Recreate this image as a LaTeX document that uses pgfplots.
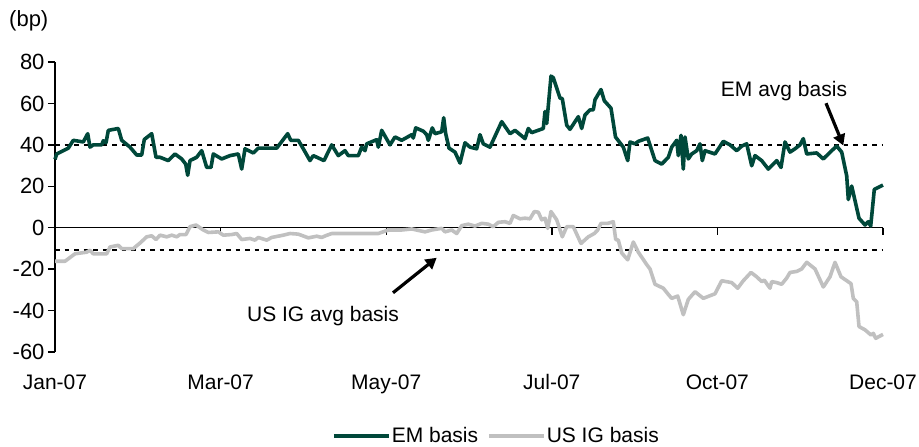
\documentclass[border=0pt]{standalone}
\usepackage{fontspec}
\setmainfont{Liberation Sans}
\usepackage{pgfplots}
\pgfplotsset{compat=1.18}
\usetikzlibrary{arrows.meta}
\definecolor{emgreen}{RGB}{0,72,58}
\definecolor{iggrey}{RGB}{192,192,192}
\newcommand{\fs}{\fontsize{21bp}{25bp}\selectfont}
\newcommand{\fy}{\fontsize{22bp}{26bp}\selectfont}

\begin{document}
\begin{tikzpicture}[font=\fs]
\useasboundingbox (0,0) rectangle (919bp,447bp);
\begin{axis}[
  at={(55bp,95bp)}, anchor=south west,
  width=828bp, height=290bp, scale only axis,
  xmin=55, xmax=883, ymin=-60, ymax=80,
  clip=false,
  axis x line*=bottom, axis y line*=left,
  x axis line style={draw=none},
  y axis line style={line width=1.4bp, black},
  xtick={55,220.6,386.2,551.8,717.4,883},
  xticklabels={Jan-07,Mar-07,May-07,Jul-07,Oct-07,Dec-07},
  xtick style={draw=none},
  ytick={-60,-40,...,80},
  ytick style={line width=1.4bp, black},
  tick align=outside, major tick length=7bp,
  /pgf/number format/assume math mode=true,
  xticklabel style={font=\fs, yshift=-12bp},
  yticklabel style={font=\fy},
  legend style={draw=none, fill=none, at={(0.5326,-0.2897)}, anchor=center,
    font=\fs, nodes={inner sep=1bp},
    /tikz/every even column/.append style={column sep=8bp}},
  legend columns=2,
  legend image code/.code={\draw[#1] (0bp,0bp) -- (55bp,0bp);},
]
% zero line with ticks
\draw[black, line width=1.4bp] (axis cs:55,0) -- (axis cs:883,0);
\draw[black, line width=1.4bp] (axis cs:220.6,0) -- ++(0bp,-7bp);
\draw[black, line width=1.4bp] (axis cs:386.2,0) -- ++(0bp,-7bp);
\draw[black, line width=1.4bp] (axis cs:551.8,0) -- ++(0bp,-7bp);
\draw[black, line width=1.4bp] (axis cs:717.4,0) -- ++(0bp,-7bp);
\draw[black, line width=1.4bp] (axis cs:883,0) -- ++(0bp,-7bp);
% average lines
\draw[black, line width=2bp, dash pattern=on 4.5bp off 5bp] (axis cs:55,39.7) -- (axis cs:883,39.7);
\draw[black, line width=2bp, dash pattern=on 4.5bp off 5bp] (axis cs:55,-10.6) -- (axis cs:883,-10.6);

\addplot[emgreen, line width=3.6bp, line join=round] coordinates {
(55,33) (56.7,35.6) (68.3,38.4) (73.3,42.2) (83.3,41.4) (87.7,45.4) (90,38.9) (93.3,40)
(101.7,40) (103.3,42) (106,41) (108.3,47) (118.3,47.9) (121.7,42.2) (130,38.9) (136.7,35.1)
(141.7,35.1) (144.3,42.6) (151.7,45.4) (156,34) (160,34) (168.3,32.4) (175,35.6) (181.7,33.2)
(185.7,30.7) (187.7,25.3) (190,32.4) (196.7,34) (201.7,37.2) (206.7,29.1) (211,29.1) (213.3,35.6)
(221.7,33.2) (230,34.8) (238.3,35.6) (241.7,28.3) (245,38.1) (253.3,36.1) (258.3,38.4) (276.7,38.4)
(287.7,45.4) (290.7,42.2) (298.3,42.2) (303.3,38.1) (310,32.4) (313.3,34.8) (324,32.4) (331.7,40)
(338.3,34.8) (345,37.2) (348.3,34.8) (358.3,34.8) (361.7,38.9) (365,37.2) (366.7,40.5) (376.7,42.5)
(378.3,38.9) (381.7,47) (390,40) (395,43.8) (401.7,42.2) (411.7,44.9) (413.3,43.3) (415.7,48.2)
(423.3,46.6) (426.7,44.9) (428.3,42.2) (432.3,48.2) (435,45.4) (441.7,46.3) (443.7,53.1) (445.7,45.4)
(449,38.4) (455,36.5) (460,31.2) (465,41) (470,38.9) (476.7,38.1) (480,44.9) (483.3,40.5)
(490,38.9) (501.7,51.2) (510,45.4) (515,47) (525,43) (528.3,47.9) (531.7,45.9) (543.3,47.9)
(545,56.1) (546.7,50.3) (551,73.2) (553.3,72.4) (560,62.6) (562.3,62.3) (566.7,49.5) (570,47.5)
(578.3,53.6) (581.7,47.9) (585,54.4) (590,56.9) (593.3,56.9) (595,61.8) (601,66.7) (604.3,61.3)
(611,57.7) (615.5,43.8) (623.3,38.9) (627.7,32.4) (630,41.4) (635,40.5) (638.3,41.7) (647.7,43.3)
(655,32.4) (661.7,30.7) (668.3,34) (671.7,38.9) (676.7,42.2) (678.3,34.8) (681,44.6) (683.3,28.3)
(685,43.8) (688.3,33.2) (691.7,35.6) (696.7,37.2) (700,40.5) (702.3,32.4) (705,37.2) (715,35.6)
(723.3,41.7) (730,40) (736.7,37.2) (741.7,39.4) (746.7,40.5) (751.7,29.9) (755,34.8) (761.7,32.4)
(768.3,28.3) (773.3,30.7) (776.7,32.4) (781,29.1) (785,41.4) (790,36.5) (795,38.1) (800,40)
(803.3,43) (806.7,35.6) (816.7,36.1) (823.3,33.2) (831.7,37.2) (836.7,39.4) (841.7,36.5) (846.7,25)
(848.3,13.6) (851.7,20.1) (859,4.6) (865,1.3) (868.3,2.9) (870.7,0.8) (874.3,18.5) (883,20.6)
};
\addlegendentry{EM basis}

\addplot[iggrey, line width=3.6bp, line join=round] coordinates {
(55,-16.2) (65,-16.2) (75,-12.6) (86.7,-11.8) (90,-10.9) (93.3,-12.6) (106.7,-12.6) (110,-9.3)
(118.3,-8.5) (121.7,-10.1) (133.3,-10.1) (140,-7.4) (146.7,-4.4) (151.7,-3.9) (156,-5.7) (160,-3.6)
(166.7,-4.4) (171.7,-3.6) (176.7,-4.4) (180,-3.3) (186,-3.3) (190,0.5) (196,1.3) (203.3,-1.1)
(208.3,-2.3) (218.3,-2) (223.3,-3.6) (231.7,-3.3) (236.7,-2.8) (241.7,-5.7) (250,-5.2) (255,-6)
(258.3,-4.7) (266.7,-6) (271.7,-4.7) (283.3,-3.6) (290,-2.8) (298.3,-3.1) (308.3,-4.9) (316.7,-4.1)
(321.7,-4.7) (326,-3.8) (331.7,-2.8) (378.3,-2.8) (388.3,-1.1) (401.7,-1.1) (411.7,-0.6) (425,-2)
(431.7,-1.1) (441.7,-0.3) (445,-2) (451.7,-1.1) (456.7,-2.8) (461.7,1) (468.3,1.7) (475,0.8)
(481.7,2.1) (488.3,1.7) (493.3,0.5) (498.3,2.6) (505,2.9) (510,2.1) (513.3,5.9) (520,4.3)
(525,4.6) (530,4.3) (534.3,7.8) (538.3,7.5) (541.7,3.8) (545,4.6) (547.7,-0.3) (551,7.8)
(556.7,3.8) (562.3,-4.4) (566.7,0.5) (573.3,0.5) (581,-7.6) (588.3,-4.4) (594.3,-2.8) (597.7,-1.1)
(601,2.1) (607.7,2.1) (613.3,2.9) (615.7,-5.7) (618.3,-6) (621.7,-12.2) (627.7,-15.5) (633.3,-6.9)
(638.3,-11.8) (646.7,-17.8) (650,-19.9) (655,-27.3) (663.3,-29.2) (668.3,-32.2) (671.7,-34.1) (677.7,-33)
(683.3,-42) (688.3,-34.6) (695,-30.9) (703.3,-34.1) (711.7,-32.5) (715,-31.9) (721.7,-25.6) (731.7,-26.5)
(737.7,-29.2) (743.3,-25.6) (751,-21.6) (756.7,-23.7) (761.7,-26) (764.3,-25.3) (766.7,-27) (770,-29.2)
(771.7,-26) (776.7,-26.5) (781.7,-27.3) (786.7,-24.3) (790,-21.6) (796.7,-21.1) (801.7,-19.9) (806.7,-16.7)
(815,-19.9) (823.3,-28.6) (830,-23.7) (835,-16.7) (841,-23.7) (851,-27) (853.3,-34.1) (856.7,-35.8)
(859,-47.7) (865,-49.3) (871,-51.8) (873.3,-51) (875.7,-53.4) (883,-51.5)
};
\addlegendentry{US IG basis}

% annotations
\node[anchor=base west, inner sep=0pt, font=\fy] at (axis cs:9,96.9) {(bp)};
\node[anchor=base, inner sep=0pt] at (axis cs:784,63.4) {EM avg basis};
\draw[black, line width=3.2bp, -{Triangle[length=11bp,width=12bp]}] (axis cs:826,60.1) -- (axis cs:843.3,39.7);
\node[anchor=base, inner sep=0pt] at (axis cs:323,-45.2) {US IG avg basis};
\draw[black, line width=3.2bp, -{Triangle[length=11bp,width=12bp]}] (axis cs:393,-31.4) -- (axis cs:436.7,-14.5);
\end{axis}
\end{tikzpicture}
\end{document}
